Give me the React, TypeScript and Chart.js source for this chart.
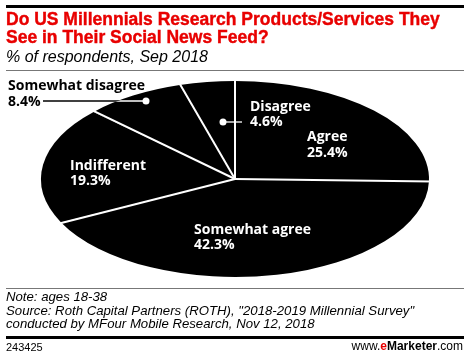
import React, { useEffect, useRef } from "react";
import { Chart, registerables } from "chart.js";

Chart.register(...registerables);

// ---- data ----
const categories = ["Agree", "Somewhat agree", "Indifferent", "Somewhat disagree", "Disagree"];
const shares = [25.4, 42.3, 19.3, 8.4, 4.6];
const valueLabels = ["25.4%", "42.3%", "19.3%", "8.4%", "4.6%"];

const titleLines = [
  "Do US Millennials Research Products/Services They",
  "See in Their Social News Feed?",
];
const subtitle = "% of respondents, Sep 2018";
const noteLines = [
  "Note: ages 18-38",
  'Source: Roth Capital Partners (ROTH), "2018-2019 Millennial Survey"',
  "conducted by MFour Mobile Research, Nov 12, 2018",
];
const chartId = "243425";

// ---- layout (pixels) ----
const PIE = { cx: 235, cy: 179, rx: 194, ry: 98 };
// label anchor: left x, baseline of first line, colour, line gap
const labelLayout = [
  { x: 307, y: 141, color: "#fff", gap: 16 },
  { x: 194, y: 234, color: "#fff", gap: 15 },
  { x: 70, y: 170, color: "#fff", gap: 15 },
  { x: 8, y: 90, color: "#000", gap: 16 },
  { x: 250, y: 111, color: "#fff", gap: 15 },
];
const LABEL_FONT = 'bold 14px "Open Sans", "Liberation Sans", sans-serif';

const ellipsePlugin = {
  id: "ellipsePie",
  beforeDatasetsDraw(chart: any) {
    const arc = chart.getDatasetMeta(0).data[0] as any;
    const ctx = chart.ctx as CanvasRenderingContext2D;
    ctx.save();
    ctx.translate(PIE.cx, PIE.cy);
    ctx.scale(PIE.rx / arc.outerRadius, PIE.ry / arc.outerRadius);
    ctx.translate(-arc.x, -arc.y);
  },
  afterDatasetsDraw(chart: any) {
    const ctx = chart.ctx as CanvasRenderingContext2D;
    ctx.restore();
    const meta = chart.getDatasetMeta(0);

    // white separators between slices
    ctx.save();
    ctx.strokeStyle = "#fff";
    ctx.lineWidth = 2;
    meta.data.forEach((a: any) => {
      const ang = a.startAngle;
      ctx.beginPath();
      ctx.moveTo(PIE.cx, PIE.cy);
      ctx.lineTo(PIE.cx + (PIE.rx + 3) * Math.cos(ang), PIE.cy + (PIE.ry + 3) * Math.sin(ang));
      ctx.stroke();
    });
    ctx.restore();

    // leader: Somewhat disagree (outside label -> inside dot)
    const ly = 101;
    ctx.save();
    ctx.strokeStyle = "#000";
    ctx.lineWidth = 1.3;
    ctx.beginPath();
    ctx.moveTo(43, ly);
    ctx.lineTo(146, ly);
    ctx.stroke();
    ctx.beginPath();
    ctx.ellipse(PIE.cx, PIE.cy, PIE.rx, PIE.ry, 0, 0, Math.PI * 2);
    ctx.clip();
    ctx.strokeStyle = "#fff";
    ctx.beginPath();
    ctx.moveTo(43, ly);
    ctx.lineTo(146, ly);
    ctx.stroke();
    ctx.restore();
    ctx.save();
    ctx.fillStyle = "#fff";
    ctx.beginPath();
    ctx.arc(146, ly, 3.5, 0, Math.PI * 2);
    ctx.fill();
    // leader: Disagree
    ctx.strokeStyle = "#fff";
    ctx.lineWidth = 1.3;
    ctx.beginPath();
    ctx.moveTo(223, 122);
    ctx.lineTo(242, 122);
    ctx.stroke();
    ctx.beginPath();
    ctx.arc(223, 122, 3.5, 0, Math.PI * 2);
    ctx.fill();
    ctx.restore();

    // labels
    ctx.save();
    ctx.font = LABEL_FONT;
    ctx.textAlign = "left";
    ctx.textBaseline = "alphabetic";
    categories.forEach((c, i) => {
      const l = labelLayout[i];
      ctx.fillStyle = l.color;
      ctx.fillText(c, l.x, l.y);
      ctx.fillText(valueLabels[i], l.x, l.y + l.gap);
    });
    ctx.restore();
  },
};

function PieChart() {
  const ref = useRef<HTMLCanvasElement | null>(null);
  useEffect(() => {
    if (!ref.current) return;
    const chart = new Chart(ref.current, {
      type: "pie",
      data: {
        labels: categories,
        datasets: [
          {
            data: shares,
            backgroundColor: "#000",
            borderWidth: 0,
          },
        ],
      },
      options: {
        animation: false,
        responsive: true,
        maintainAspectRatio: false,
        events: [],
        layout: { padding: 0 },
        plugins: {
          legend: { display: false },
          tooltip: { enabled: false },
        },
      },
      plugins: [ellipsePlugin],
    });
    return () => chart.destroy();
  }, []);
  return (
    <div style={{ position: "absolute", left: 0, top: 0, width: 470, height: 358 }}>
      <canvas ref={ref} />
    </div>
  );
}

const abs = (extra: React.CSSProperties): React.CSSProperties => ({
  position: "absolute",
  whiteSpace: "nowrap",
  margin: 0,
  ...extra,
});

export default function App() {
  return (
    <div
      style={{
        position: "absolute",
        left: 0,
        top: 0,
        width: 470,
        height: 358,
        background: "#fff",
        overflow: "hidden",
        fontFamily: '"Liberation Sans", Arial, sans-serif',
      }}
    >
      <PieChart />
      <div style={abs({ left: 6, top: 5, width: 458, height: 3, background: "#000" })} />
      <div
        style={abs({
          left: 6,
          top: 10,
          fontSize: 17.5,
          lineHeight: "18px",
          fontWeight: 700,
          color: "#e80000",
          WebkitTextStroke: "0.4px #e80000",
        })}
      >
        {titleLines.map((t, i) => (
          <div key={i}>{t}</div>
        ))}
      </div>
      <div style={abs({ left: 6, top: 48, fontSize: 16, lineHeight: "18px", fontStyle: "italic", color: "#000" })}>
        {subtitle}
      </div>
      <div style={abs({ left: 6, top: 70, width: 458, height: 1, background: "#777" })} />
      <div style={abs({ left: 6, top: 288, width: 458, height: 1, background: "#777" })} />
      <div style={abs({ left: 6, top: 290, fontSize: 13.2, lineHeight: "13.5px", fontStyle: "italic", color: "#000" })}>
        {noteLines.map((t, i) => (
          <div key={i}>{t}</div>
        ))}
      </div>
      <div style={abs({ left: 6, top: 336, width: 458, height: 3, background: "#000" })} />
      <div style={abs({ left: 6, top: 341, fontSize: 11, lineHeight: "12px", color: "#000" })}>{chartId}</div>
      <div style={abs({ right: 7, top: 340, fontSize: 12, lineHeight: "13px", color: "#000" })}>
        www.<span style={{ fontWeight: 700, color: "#e80000" }}>e</span>
        <span style={{ fontWeight: 700 }}>Marketer</span>.com
      </div>
    </div>
  );
}
